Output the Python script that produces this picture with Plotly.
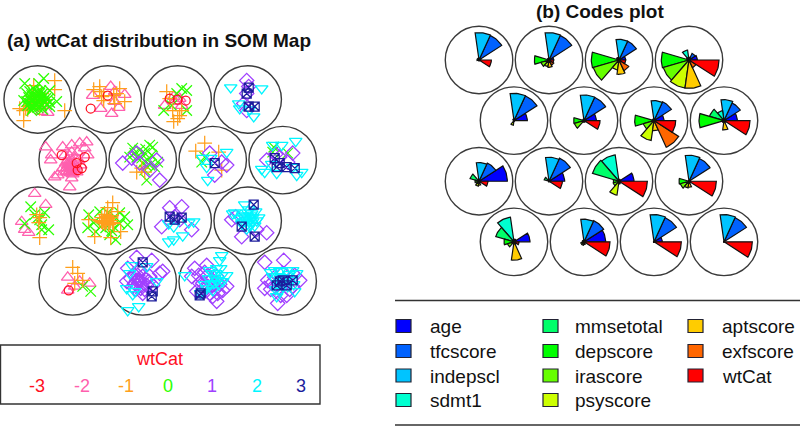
import math
import plotly.graph_objects as go

W, H = 800, 426
SQ3 = math.sqrt(3) / 2

# ---- SOM grid (4 x 4 hexagonal), units numbered left-to-right, top-to-bottom
GRID_COLS = 4
GRID_ROWS = 4
UNIT_RADIUS = 0.482

# ---- Panel (b): code vectors
VARIABLES = ["age", "tfcscore", "indepscl", "sdmt1", "mmsetotal", "depscore",
             "irascore", "psyscore", "aptscore", "exfscore", "wtCat"]
VAR_COLORS = ["#0000FF", "#0062FF", "#00C4FF", "#00FFD0", "#00FF6A", "#00FF00",
              "#66FF00", "#CCFF00", "#FFCC00", "#FF6600", "#FF0000"]
# one row per unit, one column per variable (radius, in 1/210 of a grid step)
CODES = [
    [ 6, 81, 82,  6,  4,  6,  4,  4,  4,  4, 37],
    [14, 81, 82,  5,  5, 44, 25, 20, 22, 17, 14],
    [20, 62, 62,  8,  8, 83, 80, 30, 43, 35, 20],
    [25, 22,  8, 30,  8, 83, 80, 85, 85, 25, 90],
    [40, 82, 82,  5,  4,  3,  4, 14,  3,  3,  4],
    [37, 77, 77,  5,  4, 31, 30,  5,  3,  5, 48],
    [30, 62, 60,  5,  5, 58, 33, 60, 30, 88, 65],
    [40, 58, 63, 30, 45, 75,  6,  5, 28,  6, 78],
    [85, 60, 56,  5, 28, 12, 10, 15, 12,  5, 27],
    [47, 76, 72,  5, 15,  3,  3,  3,  3,  3, 40],
    [45,  5,  6, 80, 83, 17, 18, 42,  8,  5, 85],
    [ 5, 75, 78,  3,  3, 30, 27, 20, 18,  5, 82],
    [48,  8,  8, 75, 57, 30, 20,  6, 55,  8, 15],
    [65, 70, 68,  5,  5,  5, 10, 10,  8,  5, 78],
    [25, 80, 82,  3,  3,  3,  3,  3,  3,  3, 82],
    [ 3, 80, 82,  2,  2,  2,  2,  2,  2,  2, 85],
]

# ---- Panel (a): observations, (unit, dx, dy) with offsets in 1/70 of a grid step
CLASS_LABELS = ["-3", "-2", "-1", "0", "1", "2", "3"]
CLASS_COLORS = ["#FF0F1F", "#FF5FAE", "#FF9F1C", "#2CFF00", "#A040FF", "#00F6FF", "#1C1C9C"]
CLASS_SYMBOLS = ["circle-open", "triangle-up-open", "cross-thin-open", "x-thin-open",
                 "diamond-open", "triangle-down-open", "square-x-open"]
CLASS_SIZES = [9, 11, 10.5, 10.5, 11, 11, 9]

OBS_M3 = [(2,-17,9),(2,0,-4),(3,-8,-1),(3,8,1),(3,0,0),
          (5,-11,-5),(5,12,-3),(5,4,3),(5,5,10),(5,9,8),(13,-4,9)]
OBS_M2 = [(1,10,13),(1,4,12),
          (2,-15,-4),(2,3,-13),(2,17,-5),(2,-7,9),(2,4,14),(2,7,2),(2,11,8),(2,7,-8),
          (3,-13,6),(3,-4,-3),(3,2,-1),(3,4,6),(3,-3,2),
          (5,-27,-13),(5,-21,-5),(5,-22,0),(5,-10,-13),(5,-1,-15),(5,7,-17),(5,14,-18),(5,12,-12),
          (5,15,-5),(5,-15,15),(5,-18,17),(5,-3,27),(5,-1,18),(5,-10,8),(5,-8,-5),(5,-5,0),(5,-2,4),
          (5,-6,8),(5,0,10),(5,3,6),(5,-3,-4),(5,2,-2),(5,-4,12),(5,0,14),(5,4,12),(5,-7,3),(5,6,0),
          (5,-3,7),(5,1,3),(5,-1,-8),(5,5,-8),(5,8,5),(5,-9,12),
          (5,-4,2),(5,-1,6),(5,-5,5),(5,-2,9),(5,1,7),(5,-3,11),(5,-1,1),(5,-6,11),(5,2,10),(5,-2,13),
          (9,-3,-27),(9,8,-16),(9,-16,1),(9,-13,9),(9,-9,12),
          (13,-5,-4),(13,17,2),(13,-5,9),(13,2,5),(13,7,0)]
OBS_M1 = [(1,17,-19),(1,17,-10),(1,27,11),(1,-14,21),(1,-18,9),(1,-14,11),(1,-4,-14),(1,-6,4),
          (1,-1,1),(1,4,-6),(1,-9,7),(1,2,9),(1,-5,-3),(1,3,3),(1,-8,2),(1,6,0),
          (1,-12,9),(1,-10,10),(1,-7,6),(1,1,-4),(1,-3,1),
          (2,-14,-10),(2,-8,-13),(2,12,-11),(2,17,2),(2,-4,-4),(2,-6,-3),(2,-4,1),(2,7,4),(2,6,-4),
          (2,9,-6),(2,-8,-8),
          (3,-11,-8),(3,-8,-1),(3,-5,11),(3,2,16),(3,-4,22),(3,0,19),(3,4,11),
          (6,-6,12),(6,2,12),(6,-1,8),
          (7,-8,-17),(7,-17,-9),(7,6,-8),(7,9,10),
          (9,2,17),(9,-1,-6),(9,2,-3),(9,1,2),
          (10,5,-18),(10,0,-13),(10,-19,-1),(10,-13,16),(10,3,17),(10,13,11),(10,10,-9),(10,-6,-3),
          (10,-3,-6),(10,0,-2),(10,3,0),(10,-2,2),(10,4,-5),(10,-5,2),(10,1,4),(10,-8,0),(10,6,3),
          (10,-4,0),(10,-1,-4),(10,2,-3),(10,-3,3),(10,5,2),(10,-1,1),(10,2,2),(10,-6,1),
          (13,0,-14),(13,5,-8),(13,10,-1),(13,2,2)]
OBS_0 = [(1,6,-21),(1,-13,-16),(1,-11,-6),(1,1,-16),(1,12,-9),(1,19,2),(1,12,7),(1,-14,1),(1,-6,11),
         (1,-8,-8),(1,-3,-10),(1,3,-9),(1,7,-4),(1,10,0),(1,9,5),(1,4,6),(1,0,8),(1,-4,7),(1,-8,4),
         (1,-11,2),(1,-5,0),(1,0,-3),(1,4,0),(1,-2,3),(1,-6,-4),(1,2,-6),(1,7,3),(1,-9,-2),(1,12,3),
         (1,-3,5),(1,5,10),
         (1,-6,6),(1,-1,-7),(1,3,-3),(1,6,2),(1,-3,-2),(1,1,2),(1,-7,1),(1,3,5),(1,-1,5),(1,8,-1),
         (1,-4,-6),(1,5,-6),(1,-10,6),(1,-5,9),(1,1,-1),
         (3,9,-9),(3,4,-11),(3,-14,11),(3,9,11),(3,-6,6),(3,-1,-6),
         (6,-10,-12),(6,7,-15),(6,10,-13),(6,15,2),(6,4,20),(6,2,-7),(6,-6,-3),(6,0,3),(6,5,0),(6,-13,-3),
         (6,9,-5),(6,-3,-10),(6,2,10),(6,7,5),(6,12,7),(6,-1,-2),(6,3,-11),(6,-8,-7),(6,4,6),
         (7,-11,2),(7,-8,-3),
         (8,-9,-13),(8,5,-7),(8,-10,-8),
         (9,-7,-14),(9,11,9),(9,4,9),(9,7,-8),(9,2,-1),(9,-3,-6),(9,4,4),(9,-13,3),(9,0,-3),
         (10,-19,-6),(10,20,4),(10,12,-8),(10,-8,-9),(10,-20,7),(10,-12,11),(10,2,14),(10,8,19),(10,-2,7),
         (10,17,-4),(10,7,7),(10,-7,6),(10,7,-4),(10,0,-8),(10,-14,2),(10,12,3),(10,4,10),
         (13,18,10),(13,10,5)]
OBS_1 = [(4,-1,-19),(4,-1,11),(4,-1,-6),(4,-4,4),(4,1,-13),
         (6,-20,3),(6,17,20),(6,14,0),(6,-6,-7),(6,-3,3),(6,7,10),(6,-11,-2),
         (7,14,5),(7,2,15),(7,-3,-7),(7,9,2),
         (8,10,-7),(8,-16,0),(8,-3,-3),(8,5,2),(8,-7,-6),
         (11,-8,-13),(11,4,-14),(11,-16,6),(11,14,9),(11,2,-1),(11,-3,-4),
         (12,-16,-1),(12,19,12),(12,-6,16),(12,9,9),(12,-12,-4),
         (14,-6,-24),(14,9,-21),(14,20,-10),(14,17,-8),(14,-15,-13),(14,-16,0),(14,0,12),(14,-3,-11),
         (14,7,-5),(14,-6,-1),(14,0,-5),(14,4,4),(14,-10,5),(14,-1,4),(14,-5,-6),(14,10,4),
         (14,-12,-3),(14,-8,2),(14,-3,0),(14,3,-2),(14,-7,8),(14,-2,7),(14,6,0),(14,-9,-7),(14,-4,-2),(14,2,8),
         (15,-18,-13),(15,-21,-5),(15,-6,-16),(15,14,5),(15,10,9),(15,4,20),(15,-16,10),(15,-6,-5),(15,0,4),
         (15,-10,2),(15,-3,12),(15,4,-5),(15,-13,2),(15,-5,5),
         (15,-8,-9),(15,-3,0),(15,2,8),(15,-9,7),(15,0,15),(15,7,3),(15,-14,-6),(15,-1,-2),(15,-6,9),(15,5,12),
         (16,-18,-19),(16,1,-21),(16,-15,-1),(16,-18,7),(16,17,-1),(16,-5,22),(16,4,14),(16,-11,2),(16,0,-8),
         (16,10,5),(16,-8,-4),(16,-4,6),(16,5,0),(16,-12,8),(16,12,-6),(16,-2,14),(16,7,8)]
OBS_2 = [(4,-17,-12),(4,14,-11),(4,-9,4),(4,6,17),(4,-8,9),(4,2,10),
         (7,14,-8),(7,-5,20),(7,-6,7),(7,-10,-2),(7,-2,-2),
         (8,13,-19),(8,-10,-15),(8,-1,-15),(8,-18,12),(8,-21,9),(8,-6,13),(8,14,15),(8,19,12),(8,10,7),(8,-11,4),
         (11,16,1),(11,11,2),(11,-9,21),(11,-4,19),(11,5,15),(11,-4,6),(11,-9,3),
         (12,-13,-8),(12,-3,-16),(12,11,-3),(12,-15,-7),(12,-5,-5),(12,0,-8),(12,5,-3),(12,-2,0),(12,3,3),
         (12,-6,3),(12,2,6),(12,7,5),(12,-3,-3),(12,4,-7),(12,8,-9),
         (12,-1,-4),(12,2,-1),(12,-4,1),(12,0,3),(12,5,1),(12,-8,-2),(12,1,-11),(12,-1,8),(12,3,-5),(12,9,0),
         (14,-15,29),(14,-4,25),(14,-16,7),(14,-11,-16),(14,14,0),(14,4,-15),(14,-8,10),(14,-13,-8),(14,-10,13),
         (15,9,-26),(15,7,-21),(15,-28,-6),(15,14,-6),(15,4,-13),(15,-10,10),(15,-3,-11),(15,5,-1),(15,0,-8),
         (15,10,0),(15,-6,7),(15,0,9),
         (15,8,-13),(15,2,-3),(15,-2,3),(15,6,3),(15,3,-8),(15,9,-6),(15,-4,-3),(15,1,2),(15,-8,3),(15,-12,12),
         (16,-8,-11),(16,10,-11),(16,4,-11),(16,-3,-10),(16,12,10),(16,-6,15),(16,-5,2),(16,4,-3),(16,-10,-5),
         (16,0,5),(16,7,-1),(16,-3,10),
         (16,-12,-9),(16,-1,-4),(16,6,-7),(16,14,-8),(16,-6,-5),(16,2,1),(16,-7,8),(16,11,3),(16,-2,1),(16,5,5)]
OBS_3 = [(4,1,-12),(4,-1,-6),(4,7,7),(4,1,7),
         (7,2,3),
         (8,12,8),(8,-6,7),(8,-3,3),(8,-8,-2),(8,4,7),
         (11,-8,-4),(11,4,-3),(11,-3,-1),
         (12,6,-16),(12,-6,6),(12,7,16),
         (14,0,-19),(14,9,15),(14,10,10),
         (15,-13,14),(15,-12,12),
         (16,-6,4),(16,-3,0),(16,10,-1),(16,4,4),(16,0,-1)]
OBSERVATIONS = [OBS_M3, OBS_M2, OBS_M1, OBS_0, OBS_1, OBS_2, OBS_3]

# drawing order of the classes inside each unit (indices into CLASS_LABELS)
ORDER_DEFAULT = [1, 3, 2, 0, 4, 5, 6]
ORDER_GREEN_TOP = [1, 2, 3, 0, 4, 5, 6]
UNITS_GREEN_TOP = {1}

TITLE_A = "(a) wtCat distribution in SOM Map"
TITLE_B = "(b) Codes plot"
LEGEND_A_TITLE = "wtCat"


def unit_center(u):
    idx = u - 1
    row = idx // GRID_COLS
    col = idx % GRID_COLS
    return col + (0.5 if row % 2 else 0.0), row * SQ3


def wedge(cx, cy, i, r, n):
    a0 = 2 * math.pi * i / n
    a1 = 2 * math.pi * (i + 1) / n
    xs, ys = [cx], [cy]
    for k in range(13):
        a = a0 + (a1 - a0) * k / 12
        xs.append(cx + r * math.cos(a))
        ys.append(cy - r * math.sin(a))
    xs.extend([cx, None])
    ys.extend([cy, None])
    return xs, ys


fig = go.Figure()

# Panel geometry (pixels)
STEP = 70.0
A_X0, A_X1, A_Y0, A_Y1 = 0, 345, 55, 340
A_CX, A_CY = 37.7, 99.5
B_X0, B_X1, B_Y0, B_Y1 = 425, 800, 18, 290
B_CX, B_CY = 479.0, 60.0

axis_off = dict(visible=False, showgrid=False, zeroline=False, fixedrange=True)
fig.update_layout(
    xaxis=dict(axis_off, domain=[A_X0 / W, A_X1 / W],
               range=[(A_X0 - A_CX) / STEP, (A_X1 - A_CX) / STEP]),
    yaxis=dict(axis_off, domain=[1 - A_Y1 / H, 1 - A_Y0 / H],
               range=[(A_Y1 - A_CY) / STEP, (A_Y0 - A_CY) / STEP]),
    xaxis2=dict(axis_off, domain=[B_X0 / W, B_X1 / W], anchor="y2",
                range=[(B_X0 - B_CX) / STEP, (B_X1 - B_CX) / STEP]),
    yaxis2=dict(axis_off, domain=[1 - B_Y1 / H, 1 - B_Y0 / H], anchor="x2",
                range=[(B_Y1 - B_CY) / STEP, (B_Y0 - B_CY) / STEP]),
)

# Observations per unit and class
for u in range(1, GRID_COLS * GRID_ROWS + 1):
    order = ORDER_GREEN_TOP if u in UNITS_GREEN_TOP else ORDER_DEFAULT
    cx, cy = unit_center(u)
    for c in order:
        pts = [p for p in OBSERVATIONS[c] if p[0] == u]
        if not pts:
            continue
        fig.add_trace(go.Scatter(
            x=[cx + p[1] / STEP for p in pts],
            y=[cy + p[2] / STEP for p in pts],
            mode="markers", showlegend=False, hoverinfo="skip", xaxis="x", yaxis="y",
            marker=dict(symbol=CLASS_SYMBOLS[c], size=CLASS_SIZES[c],
                        color=CLASS_COLORS[c], line=dict(color=CLASS_COLORS[c], width=1.25)),
        ))

# Code wedges
n_var = len(VARIABLES)
for i in range(n_var):
    xs, ys = [], []
    for u, row in enumerate(CODES, start=1):
        cx, cy = unit_center(u)
        wx, wy = wedge(cx, cy, i, row[i] / 210.0, n_var)
        xs += wx
        ys += wy
    fig.add_trace(go.Scatter(
        x=xs, y=ys, mode="lines", fill="toself", fillcolor=VAR_COLORS[i],
        line=dict(color="#101010", width=1.2), showlegend=False, hoverinfo="skip",
        name=VARIABLES[i], xaxis="x2", yaxis="y2",
    ))

shapes = []
LINE_GREY = "#3a3a3a"
for u in range(1, GRID_COLS * GRID_ROWS + 1):
    cx, cy = unit_center(u)
    for xr, yr in (("x", "y"), ("x2", "y2")):
        shapes.append(dict(type="circle", xref=xr, yref=yr, layer="below",
                           x0=cx - UNIT_RADIUS, x1=cx + UNIT_RADIUS,
                           y0=cy - UNIT_RADIUS, y1=cy + UNIT_RADIUS,
                           line=dict(color=LINE_GREY, width=1.4)))

def px(x):
    return x / W

def py(y):
    return 1 - y / H

# Legend frames
shapes.append(dict(type="rect", xref="paper", yref="paper", x0=px(0.5), x1=px(320),
                   y0=py(404), y1=py(345), line=dict(color="#333333", width=1.4)))
for yy in (300.5, 425):
    shapes.append(dict(type="line", xref="paper", yref="paper", x0=px(395), x1=px(800),
                       y0=py(yy), y1=py(yy), line=dict(color="#333333", width=1.4)))

annotations = []
FONT = "Liberation Sans, Arial, sans-serif"

def text(x, y, s, size, color="#111111", anchor="left", bold=False):
    annotations.append(dict(
        xref="paper", yref="paper", x=px(x), y=py(y), text=f"<b>{s}</b>" if bold else s,
        showarrow=False, xanchor=anchor, yanchor="middle",
        font=dict(family=FONT, size=size, color=color), borderpad=0, borderwidth=0))

text(7, 40, TITLE_A, 19, anchor="left", bold=True)
text(600, 11, TITLE_B, 19, anchor="center", bold=True)
text(159, 359, LEGEND_A_TITLE, 18, color="#FF0F1F", anchor="center")
LABEL_X = [37, 82, 126, 168, 212, 257, 301]
for lx, lab, col in zip(LABEL_X, CLASS_LABELS, CLASS_COLORS):
    text(lx, 386, lab, 18, color=col, anchor="center")

COL_SWATCH_X = [396, 543, 688]
COL_TEXT_X = [430, 575, 722]
ROW_Y = [326, 351, 375.5, 400]
COL_COUNTS = [4, 4, 3]
idx = 0
for col, count in enumerate(COL_COUNTS):
    for row in range(count):
        y = ROW_Y[row]
        shapes.append(dict(type="rect", xref="paper", yref="paper",
                           x0=px(COL_SWATCH_X[col]), x1=px(COL_SWATCH_X[col] + 15),
                           y0=py(y + 6.5), y1=py(y - 6.5),
                           fillcolor=VAR_COLORS[idx], line=dict(color="#222233", width=1.2)))
        text(COL_TEXT_X[col], y + 0.5, VARIABLES[idx], 19)
        idx += 1

fig.update_layout(
    width=W, height=H, margin=dict(l=0, r=0, t=0, b=0),
    paper_bgcolor="white", plot_bgcolor="white",
    shapes=shapes, annotations=annotations, showlegend=False,
)
fig.write_html("out.html", config={"displayModeBar": False},
               post_script="document.body.style.margin='0';document.body.style.overflow='hidden';")
